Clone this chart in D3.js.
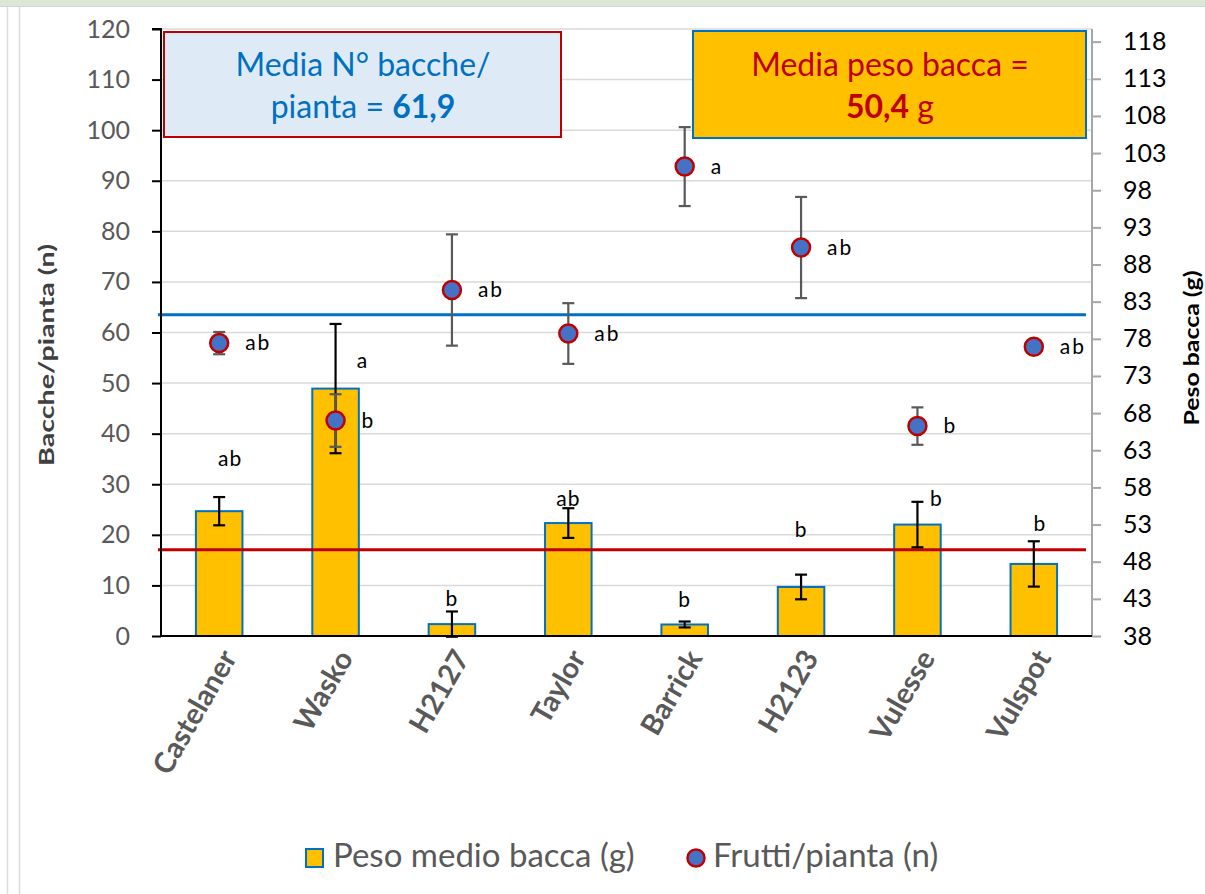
<!DOCTYPE html>
<html><head><meta charset="utf-8">
<script src="https://cdn.jsdelivr.net/npm/d3@7"></script>
<style>
body{margin:0;background:#fff;}
svg{display:block;font-family:Lato,"Open Sans",sans-serif;}
</style></head>
<body>
<svg id="c" width="1205" height="894"></svg>
<script>
// ---- data ----
const categories = ["Castelaner","Wasko","H2127","Taylor","Barrick","H2123","Vulesse","Vulspot"];
const pesoMedio = [54.8, 71.3, 39.6, 53.2, 39.55, 44.6, 53.0, 47.7];      // g, right axis (bars)
const pesoErr   = [1.9, 8.7, 1.7, 2.0, 0.4, 1.66, 3.06, 3.05];
const pesoLetters = ["ab","a","b","ab","b","b","b","b"];
const frutti = [57.9, 42.6, 68.4, 59.8, 92.8, 76.8, 41.5, 57.2];          // n, left axis (points)
const fruttiErr = [2.2, 5.2, 11.0, 6.0, 7.8, 10.0, 3.7, 0];
const fruttiLetters = ["ab","b","ab","ab","a","ab","b","ab"];
const leftTicks = [0,10,20,30,40,50,60,70,80,90,100,110,120];
const rightTicks = [38,43,48,53,58,63,68,73,78,83,88,93,98,103,108,113,118];
const meanFruttiLine = 63.5;   // left axis value where blue line is drawn
const meanPesoLine = 49.6;     // right axis value where red line is drawn
const boxLeft = {line1:"Media N° bacche/", line2a:"pianta = ", line2b:"61,9"};
const boxRight = {line1:"Media peso bacca =", line2a:"50,4", line2b:" g"};
const legendLabels = ["Peso medio bacca (g)","Frutti/pianta (n)"];
const axisTitles = {left:"Bacche/pianta (n)", right:"Peso bacca (g)"};

// ---- layout (label offsets in px, relative to top of error bar) ----
const pesoLetterOffsets = [[11,-36],[27,39],[0,-11],[0,-8],[0,-20],[0,-43],[19,-1],[6,-16]];

const svg = d3.select("#c");
const L = 161, R = 1092, T = 29, B = 636;

// frame
svg.append("rect").attr("x",0).attr("y",0).attr("width",1205).attr("height",6).attr("fill","#dde7d8");
svg.append("line").attr("x1",0).attr("x2",1205).attr("y1",6.5).attr("y2",6.5).attr("stroke","#cfd6cc").attr("stroke-width",1);
[7.5,19.5].forEach(x=>svg.append("line").attr("x1",x).attr("x2",x).attr("y1",7).attr("y2",894).attr("stroke","#dcdcdc").attr("stroke-width",1.5));

const x = d3.scaleBand().domain(categories).range([L,R]).paddingInner(0.6).paddingOuter(0.3);
const yL = d3.scaleLinear().domain([0,120]).range([B,T]);
const yR = d3.scaleLinear().domain([38,119.7]).range([B,T]);
const cx = d => x(d) + x.bandwidth()/2;

// gridlines
svg.append("g").selectAll("line").data(leftTicks.filter(t=>t>0)).join("line")
  .attr("x1",L).attr("x2",R).attr("y1",d=>yL(d)).attr("y2",d=>yL(d))
  .attr("stroke","#d9d9d9").attr("stroke-width",1.5);

// bars
svg.append("g").selectAll("rect").data(categories).join("rect")
  .attr("x",d=>x(d)).attr("width",x.bandwidth())
  .attr("y",(d,i)=>yR(pesoMedio[i])).attr("height",(d,i)=>yR(38)-yR(pesoMedio[i]))
  .attr("fill","#ffc000").attr("stroke","#0070c0").attr("stroke-width",2);

// mean lines
svg.append("line").attr("x1",158).attr("x2",1086).attr("y1",yL(meanFruttiLine)).attr("y2",yL(meanFruttiLine))
  .attr("stroke","#0070c0").attr("stroke-width",3);
svg.append("line").attr("x1",158).attr("x2",1086).attr("y1",yR(meanPesoLine)).attr("y2",yR(meanPesoLine))
  .attr("stroke","#c00000").attr("stroke-width",3);

// axes
const axL = svg.append("g").attr("transform",`translate(${L},0)`)
  .call(d3.axisLeft(yL).tickValues(leftTicks).tickSize(9).tickPadding(22));
axL.select(".domain").attr("stroke","#000").attr("stroke-width",2).attr("d",`M-9,${T}H0V${B}`);
axL.selectAll(".tick line").attr("stroke","#000").attr("stroke-width",2);
axL.selectAll(".tick text").attr("fill","#595959").attr("font-size",25).attr("font-family","Lato");

const axR = svg.append("g").attr("transform",`translate(${R},0)`)
  .call(d3.axisRight(yR).tickValues(rightTicks).tickSize(9).tickPadding(22));
axR.select(".domain").attr("stroke","#a6a6a6").attr("stroke-width",2).attr("d",`M0,${T}V${B}`);
axR.selectAll(".tick line").attr("stroke","#a6a6a6").attr("stroke-width",2);
axR.selectAll(".tick text").attr("fill","#000").attr("font-size",25).attr("font-family","Lato");

// x axis baseline
svg.append("line").attr("x1",L).attr("x2",R).attr("y1",B).attr("y2",B).attr("stroke","#000").attr("stroke-width",2);

// category labels
svg.append("g").selectAll("text").data(categories).join("text")
  .attr("transform",d=>`translate(${cx(d)+12},${B+18}) rotate(-60)`)
  .attr("text-anchor","end").attr("dominant-baseline","middle")
  .attr("font-weight","bold").attr("font-size",29).attr("fill","#595959").text(d=>d);

// error bars helper
function errBars(vals, errs, scale, color){
  const g = svg.append("g").attr("stroke",color).attr("stroke-width",2.2).attr("fill","none");
  categories.forEach((c,i)=>{
    if(!errs[i]) return;
    const X = cx(c), y1 = scale(vals[i]+errs[i]), y2 = scale(vals[i]-errs[i]);
    g.append("line").attr("x1",X).attr("x2",X).attr("y1",y1).attr("y2",y2);
    g.append("line").attr("x1",X-6).attr("x2",X+6).attr("y1",y1).attr("y2",y1);
    g.append("line").attr("x1",X-6).attr("x2",X+6).attr("y1",y2).attr("y2",y2);
  });
}
errBars(pesoMedio, pesoErr, yR, "#000");
errBars(frutti, fruttiErr, yL, "#595959");

// points
svg.append("g").selectAll("circle").data(categories).join("circle")
  .attr("cx",d=>cx(d)).attr("cy",(d,i)=>yL(frutti[i])).attr("r",9)
  .attr("fill","#4472c4").attr("stroke","#c00000").attr("stroke-width",2.5);

// letters
svg.append("g").selectAll("text").data(categories).join("text")
  .attr("x",d=>cx(d)+26).attr("y",(d,i)=>yL(frutti[i])+2)
  .attr("dominant-baseline","middle").attr("font-size",21).attr("letter-spacing",2).attr("fill","#000")
  .text((d,i)=>fruttiLetters[i]);
svg.append("g").selectAll("text").data(categories).join("text")
  .attr("x",(d,i)=>cx(d)+pesoLetterOffsets[i][0])
  .attr("y",(d,i)=>yR(pesoMedio[i]+pesoErr[i])+pesoLetterOffsets[i][1])
  .attr("text-anchor","middle").attr("dominant-baseline","middle").attr("font-size",21).attr("letter-spacing",1).attr("fill","#000")
  .text((d,i)=>pesoLetters[i]);

// axis titles
svg.append("text").attr("transform","translate(54,355) rotate(-90)").attr("text-anchor","middle")
  .attr("font-weight","bold").attr("font-size",21).attr("fill","#404040")
  .attr("textLength",222).attr("lengthAdjust","spacingAndGlyphs").text(axisTitles.left);
svg.append("text").attr("transform","translate(1199,348) rotate(-90)").attr("text-anchor","middle")
  .attr("font-weight","bold").attr("font-size",21).attr("fill","#000")
  .attr("textLength",155).attr("lengthAdjust","spacingAndGlyphs").text(axisTitles.right);

// text boxes
svg.append("rect").attr("x",164).attr("y",32).attr("width",397).attr("height",105)
  .attr("fill","#deebf7").attr("stroke","#c00000").attr("stroke-width",2);
const t1 = svg.append("text").attr("text-anchor","middle").attr("font-size",32).attr("fill","#0070c0");
t1.append("tspan").attr("x",363).attr("y",76).text(boxLeft.line1);
const t1b = t1.append("tspan").attr("x",363).attr("y",118);
t1b.append("tspan").text(boxLeft.line2a);
t1b.append("tspan").attr("font-weight","bold").text(boxLeft.line2b);

svg.append("rect").attr("x",693).attr("y",31).attr("width",393).attr("height",107)
  .attr("fill","#ffc000").attr("stroke","#0070c0").attr("stroke-width",2);
const t2 = svg.append("text").attr("text-anchor","middle").attr("font-size",32).attr("fill","#c00000");
t2.append("tspan").attr("x",890).attr("y",76).text(boxRight.line1);
const t2b = t2.append("tspan").attr("x",890).attr("y",118);
t2b.append("tspan").attr("font-weight","bold").text(boxRight.line2a);
t2b.append("tspan").text(boxRight.line2b);

// legend
const lg = svg.append("g");
lg.append("rect").attr("x",306).attr("y",849).attr("width",17).attr("height",18)
  .attr("fill","#ffc000").attr("stroke","#0070c0").attr("stroke-width",2);
lg.append("text").attr("x",333).attr("y",859).attr("dominant-baseline","middle").attr("font-size",33).attr("fill","#595959").text(legendLabels[0]);
lg.append("circle").attr("cx",696).attr("cy",858).attr("r",8.5)
  .attr("fill","#4472c4").attr("stroke","#c00000").attr("stroke-width",2.5);
lg.append("text").attr("x",713).attr("y",859).attr("dominant-baseline","middle").attr("font-size",33).attr("fill","#595959").text(legendLabels[1]);
</script>
</body></html>
